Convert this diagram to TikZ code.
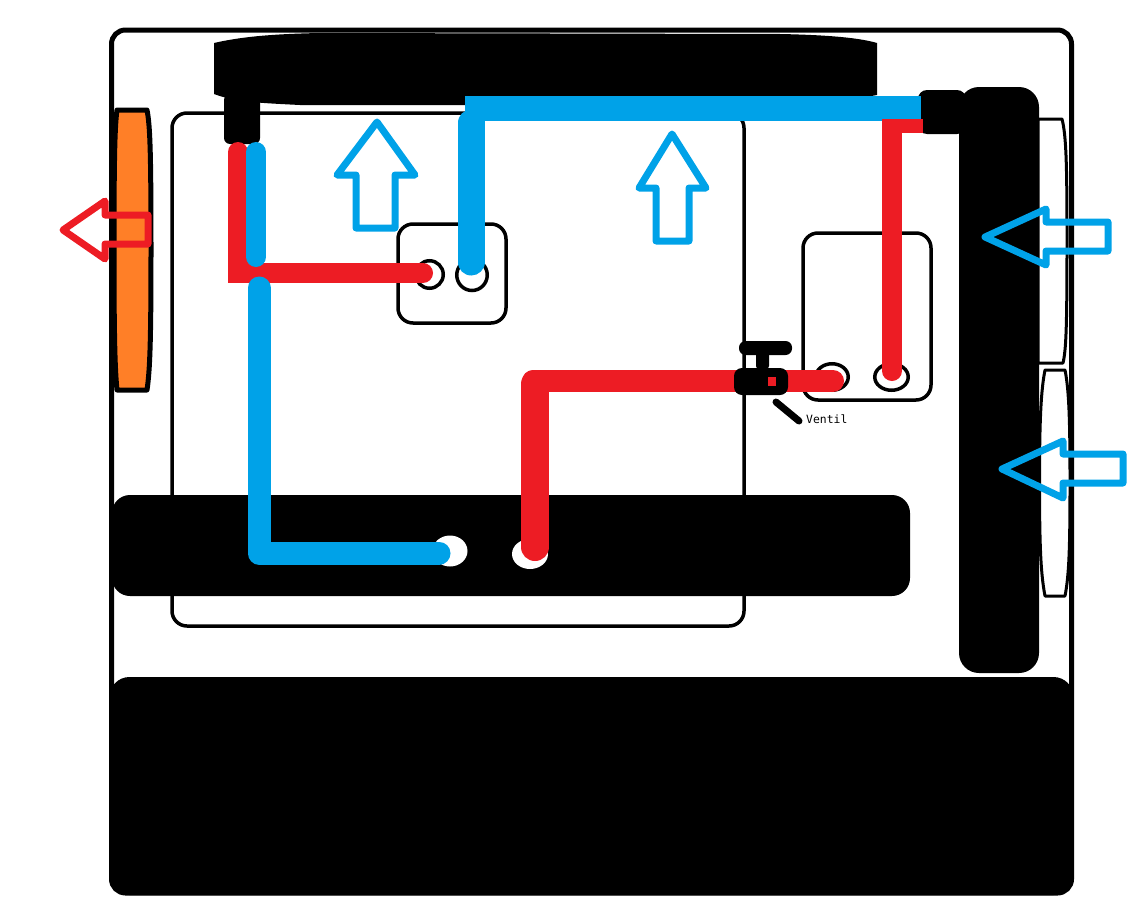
\documentclass[tikz,border=0pt]{standalone}
\usepackage{tikz}
\usetikzlibrary{shapes.geometric}
\usepackage{fontspec}
\setmonofont{DejaVu Sans Mono}
\definecolor{pipeblue}{RGB}{0,162,232}
\definecolor{pipered}{RGB}{237,28,36}
\definecolor{fanorange}{RGB}{255,127,39}
\tikzstyle{case} = [draw, line width=5pt, rounded corners=14pt, inner sep=0pt]
\tikzstyle{frame} = [draw, line width=3.5pt, rounded corners=15pt, inner sep=0pt]
\tikzstyle{block} = [fill=black, rounded corners=18pt, inner sep=0pt]
\tikzstyle{bluepipe} = [draw=pipeblue, line cap=round, line join=round]
\tikzstyle{redpipe} = [draw=pipered, line cap=round, line join=round]
\tikzstyle{port} = [draw, ellipse, line width=3.5pt, fill=white, inner sep=0pt]
\tikzstyle{hole} = [fill=white, ellipse, inner sep=0pt]
\tikzstyle{flow} = [line width=7pt, line join=round]

\begin{document}
\begin{tikzpicture}[x=1pt,y=-1pt]
    \useasboundingbox (0,0) rectangle (1145,902);

    \node[case,minimum width=960pt,minimum height=863pt] (housing) at (591.5,461.5) {};
    \node[frame,minimum width=572pt,minimum height=513pt] (board) at (458,369.5) {};

    % radiators and fans
    \fill (214,43) .. controls (240,37) and (270,34) .. (320,33) -- (780,34)
        .. controls (830,35) and (860,38) .. (877,43) -- (877,95)
        .. controls (850,100) and (830,104) .. (780,105) -- (300,105)
        .. controls (260,103) and (235,102) .. (214,94) -- cycle;
    \node[block,rounded corners=6pt,minimum width=36pt,minimum height=50pt] (topjoint) at (242,119) {};
    \node[block,rounded corners=9pt,minimum width=48pt,minimum height=44pt] (sidejoint) at (942,112) {};
    \node[block,rounded corners=20pt,minimum width=80pt,minimum height=586pt] (sideradiator) at (999,380) {};

    \draw[line width=5pt,fill=fanorange,line join=round] (117,110) -- (147,110)
        .. controls (150,125) and (151,150) .. (151,250) .. controls (151,340) and (150,370) .. (147,390)
        -- (117,390) .. controls (115,370) and (114,340) .. (114,250) .. controls (114,150) and (115,125) .. (117,110) -- cycle;
    \draw[line width=3pt,fill=white,line join=round] (1038,119) -- (1062,119)
        .. controls (1066,135) and (1067,160) .. (1067,240) .. controls (1067,330) and (1066,350) .. (1063,363)
        -- (1038,363) -- cycle;
    \draw[line width=3pt,fill=white,line join=round] (1045,370) -- (1065,370)
        .. controls (1069,390) and (1070,420) .. (1070,482) .. controls (1070,550) and (1069,575) .. (1065,596)
        -- (1045,596) .. controls (1041,575) and (1039.5,550) .. (1039.5,482) .. controls (1039.5,420) and (1041,390) .. (1045,370) -- cycle;

    \node[block,minimum width=798pt,minimum height=101pt] (pumpbar) at (511,545.5) {};
    \node[block,rounded corners=20pt,minimum width=964pt,minimum height=218pt] (psu) at (591.5,786) {};

    % water blocks
    \node[frame,minimum width=108pt,minimum height=99pt] (cpublock) at (452,273.5) {};
    \node[frame,minimum width=128pt,minimum height=167pt] (gpublock) at (867,316.5) {};
    \node[port,minimum width=27.5pt,minimum height=27.5pt] (cpuin) at (429.5,274.5) {};
    \node[port,minimum width=30.5pt,minimum height=31pt] (cpuout) at (472,275) {};
    \node[port,minimum width=32.5pt,minimum height=26.5pt] (gpuin) at (832,377) {};
    \node[port,minimum width=33.5pt,minimum height=26.5pt] (gpuout) at (891.5,377) {};
    \node[hole,minimum width=35pt,minimum height=31pt] (pumpout) at (450,551) {};
    \node[hole,minimum width=36pt,minimum height=30pt] (pumpin) at (530,554) {};

    % pipe ends
    \coordinate (rA) at (238,152);
    \coordinate (rB) at (238,273);
    \coordinate (rC) at (423,273);
    \coordinate (bA) at (256,152);
    \coordinate (bB) at (256,257);
    \coordinate (bC) at (259,288);
    \coordinate (bD) at (259,553);
    \coordinate (bE) at (439,553);
    \coordinate (bF) at (471,262);
    \coordinate (bG) at (471,123);
    \coordinate (bH) at (465,108);
    \coordinate (bI) at (921,108);
    \coordinate (rD) at (892,371);
    \coordinate (rE) at (892,129);
    \coordinate (rK) at (882,126);
    \coordinate (rF) at (923,126);
    \coordinate (rG) at (535,547);
    \coordinate (rH) at (535,384);
    \coordinate (rI) at (533,381);
    \coordinate (rJ) at (833,381);

    \draw[redpipe,line width=20pt,line join=miter] (rA) -- (rB) -- (rC);
    \draw[bluepipe,line width=20pt] (bA) -- (bB);
    \draw[bluepipe,line width=23pt] (bC) -- (bD) -- (bE);
    \draw[bluepipe,line width=27pt] (bF) -- (bG);
    \draw[draw=pipeblue,line width=25pt] (bH) -- (bI);
    \draw[redpipe,line width=20pt] (rD) -- (rE);
    \draw[draw=pipered,line width=14pt] (rK) -- (rF);
    \draw[redpipe,line width=28pt] (rG) -- (rH);
    \draw[redpipe,line width=22pt] (rI) -- (rJ);

    % valve
    \node[block,rounded corners=8pt,minimum width=54pt,minimum height=27pt] (valvebody) at (761,381.5) {};
    \node[fill=pipered,minimum size=8.5pt,inner sep=0pt] (valvemark) at (772,381.5) {};
    \node[block,rounded corners=3pt,minimum width=13pt,minimum height=18pt] (valvestem) at (762.5,360) {};
    \node[block,rounded corners=6.5pt,minimum width=53pt,minimum height=14pt] (valvehandle) at (765.5,348) {};
    \node[font=\ttfamily\fontsize{11.4}{12}\selectfont,inner sep=0pt,anchor=west] (valvelabel) at (806,419) {Ventil};
    \coordinate (leaderstart) at (776,402);
    \coordinate (leaderend) at (799,421);
    \draw[line width=7pt,line cap=round] (leaderstart) -- (leaderend);

    % air flow
    \draw[flow,draw=pipered] (63,230) -- (105,201) -- (105,215) -- (148,215) -- (148,244) -- (105,244) -- (105,259) -- cycle;
    \draw[flow,draw=pipeblue] (377,122) -- (337,175) -- (356,175) -- (356,228) -- (395,228) -- (395,175) -- (415,175) -- cycle;
    \draw[flow,draw=pipeblue] (672,134) -- (639,188) -- (656,188) -- (656,241) -- (689,241) -- (689,188) -- (706,188) -- cycle;
    \draw[flow,draw=pipeblue] (985,237) -- (1046,209) -- (1046,222) -- (1108,222) -- (1108,251) -- (1046,251) -- (1046,265) -- cycle;
    \draw[flow,draw=pipeblue] (1002,469) -- (1063,441) -- (1063,454) -- (1123,454) -- (1123,483) -- (1063,483) -- (1063,498) -- cycle;
\end{tikzpicture}
\end{document}
